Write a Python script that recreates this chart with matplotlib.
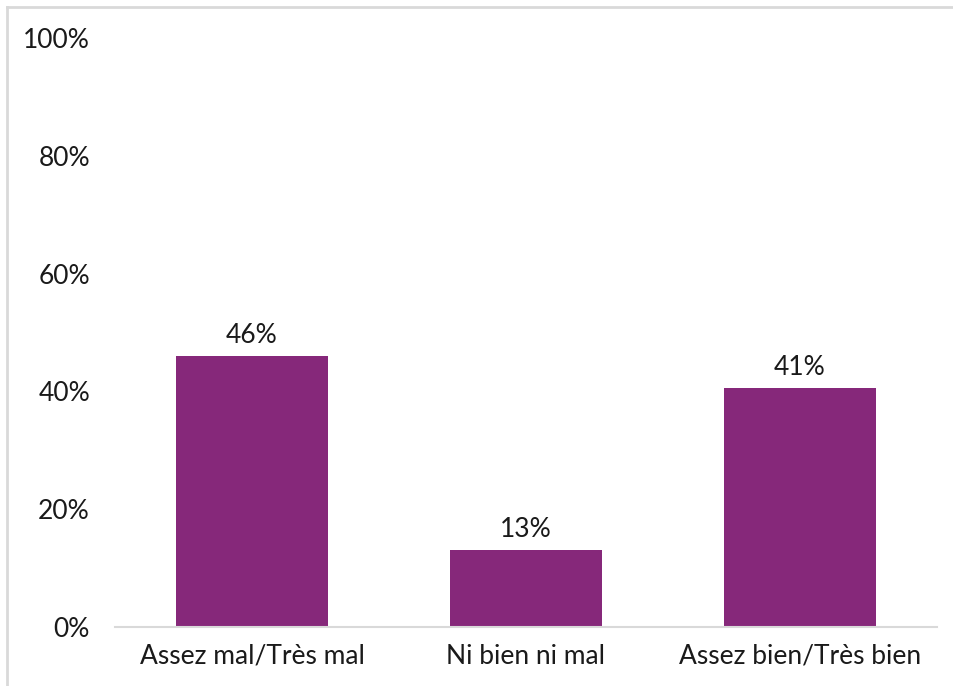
import matplotlib
matplotlib.use("Agg")
import matplotlib.pyplot as plt
from matplotlib.lines import Line2D

categories = ["Assez mal/Très mal", "Ni bien ni mal", "Assez bien/Très bien"]
values = [46, 13, 40.5]
value_labels = ["46%", "13%", "41%"]
yticks = [0, 20, 40, 60, 80, 100]
ytick_labels = ["0%", "20%", "40%", "60%", "80%", "100%"]

plt.rcParams['font.family'] = ['Lato', 'DejaVu Sans']

fig = plt.figure(figsize=(9.54, 6.86), dpi=100)
ax = fig.add_axes([115/954, 1-627/686, (937-115)/954, (627-38)/686])

x = list(range(len(categories)))
ax.bar(x, values, width=0.557, color="#86287A", zorder=2)
for xi, v, lab in zip(x, values, value_labels):
    ax.annotate(lab, (xi, v), xytext=(0, 6), textcoords="offset points",
                ha="center", va="bottom", fontsize=19, color="#1a1a1a")

ax.set_xlim(-0.5, 2.5)
ax.set_ylim(0, 100)
ax.set_yticks(yticks)
ax.set_yticklabels(ytick_labels)
ax.set_xticks(x)
ax.set_xticklabels(categories)
ax.tick_params(axis='both', length=0, labelsize=19, labelcolor="#1a1a1a")
ax.tick_params(axis='y', pad=18)
ax.tick_params(axis='x', pad=12)
for s in ["top", "right", "left"]:
    ax.spines[s].set_visible(False)
ax.spines["bottom"].set_color("#D9D9D9")
ax.spines["bottom"].set_linewidth(1.5)

# figure border (left and top visible)
fig.add_artist(Line2D([7/954, 7/954], [0, 1-7/686], transform=fig.transFigure, color="#D9D9D9", lw=2))
fig.add_artist(Line2D([7/954, 1], [1-7/686, 1-7/686], transform=fig.transFigure, color="#D9D9D9", lw=2))

fig.savefig("out.png", dpi=100)
